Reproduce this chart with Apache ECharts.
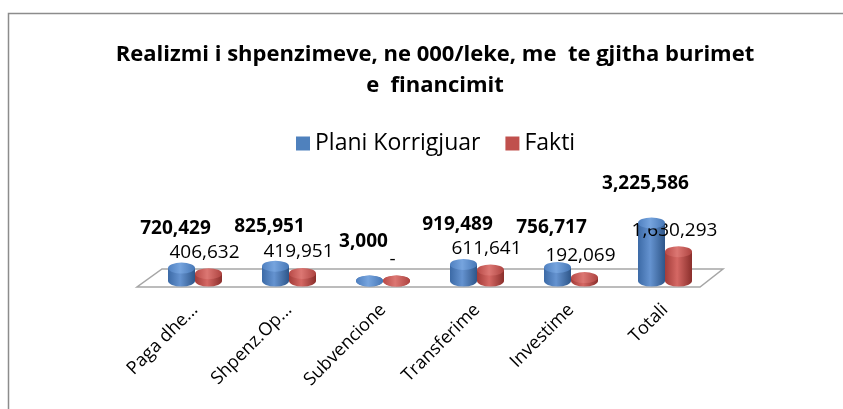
<!DOCTYPE html>
<html>
<head>
<meta charset="utf-8">
<script src="https://cdn.jsdelivr.net/npm/echarts@6/dist/echarts.min.js"></script>
<style>
  html, body { margin: 0; padding: 0; background: #fff; }
  #chart { width: 843px; height: 409px; }
</style>
</head>
<body>
<div id="chart"></div>
<script>
// te dhenat
var categories = ['Paga dhe...', 'Shpenz.Op...', 'Subvencione', 'Transferime', 'Investime', 'Totali'];
var planiKorrigjuar = [720429, 825951, 3000, 919489, 756717, 3225586];
var fakti = [406632, 419951, 0, 611641, 192069, 1630293];

var FONT = 'Open Sans';
var BAR_W = 27;

function fmt(v) {
  if (!v) return '-';
  return v.toLocaleString('en-US');
}

function cyl(c1, c2, c3) {
  return new echarts.graphic.LinearGradient(0, 0, 1, 0, [
    { offset: 0, color: c1 },
    { offset: 0.45, color: c2 },
    { offset: 1, color: c3 }
  ]);
}

var myChart = echarts.init(document.getElementById('chart'));
var option = {
  backgroundColor: '#fff',
  animation: false,
  title: {
    text: 'Realizmi i shpenzimeve, ne 000/leke, me  te gjitha burimet\ne  financimit',
    left: 430,
    textAlign: 'center',
    top: 34,
    textStyle: {
      fontFamily: FONT,
      fontSize: 22,
      fontWeight: 'bold',
      color: '#000',
      lineHeight: 31
    }
  },
  legend: {
    top: 127,
    left: 291,
    itemGap: 25,
    itemWidth: 14,
    itemHeight: 14,
    icon: 'rect',
    data: [
      { name: 'Plani Korrigjuar', itemStyle: { color: '#4f81bd' } },
      { name: 'Fakti', itemStyle: { color: '#c0504d' } }
    ],
    textStyle: { fontFamily: FONT, fontSize: 23, color: '#000' }
  },
  grid: { left: 148, right: 131, top: 200, bottom: 128 },
  xAxis: {
    type: 'category',
    data: categories,
    axisLine: { show: false },
    axisTick: { show: false },
    axisLabel: {
      rotate: 45,
      margin: 26,
      interval: 0,
      fontFamily: FONT,
      fontSize: 18,
      color: '#000'
    }
  },
  yAxis: {
    type: 'value',
    min: 0,
    max: 4500000,
    show: false,
    splitLine: { show: false }
  },
  series: [
    {
      name: 'Plani Korrigjuar',
      type: 'bar',
      data: planiKorrigjuar,
      barWidth: BAR_W,
      barGap: '0%',
      z: 3,
      itemStyle: { color: cyl('#3c6aa6', '#6593d0', '#2e5689') },
      label: {
        show: true,
        position: 'top',
        distance: 30,
        offset: [-6, 0],
        formatter: function (p) { return fmt(p.value); },
        fontFamily: FONT,
        fontSize: 19,
        fontWeight: 'bold',
        color: '#000'
      }
    },
    {
      name: 'Fakti',
      type: 'bar',
      data: fakti,
      barWidth: BAR_W,
      barGap: '0%',
      z: 3,
      itemStyle: { color: cyl('#a23c39', '#d56864', '#8a2e2b') },
      label: {
        show: true,
        position: 'top',
        distance: 12,
        offset: [-4, 0],
        formatter: function (p) { return fmt(p.value); },
        fontFamily: FONT,
        fontSize: 19,
        color: '#000'
      }
    },
    // kapaket e cilindrave
    {
      name: 'Plani Korrigjuar',
      type: 'pictorialBar',
      data: planiKorrigjuar,
      symbol: 'circle',
      symbolSize: [BAR_W, 11],
      symbolPosition: 'end',
      symbolOffset: ['-50%', '-50%'],
      z: 4,
      itemStyle: { color: cyl('#4f80c0', '#76a4de', '#4677b6') }
    },
    {
      name: 'Fakti',
      type: 'pictorialBar',
      data: fakti,
      symbol: 'circle',
      symbolSize: [BAR_W, 11],
      symbolPosition: 'end',
      symbolOffset: ['50%', '-50%'],
      z: 4,
      itemStyle: { color: cyl('#b84a47', '#dc7773', '#ad4340') }
    },
    {
      name: 'Plani Korrigjuar',
      type: 'pictorialBar',
      data: planiKorrigjuar,
      symbol: 'circle',
      symbolSize: [BAR_W, 11],
      symbolPosition: 'start',
      symbolOffset: ['-50%', '50%'],
      z: 2,
      itemStyle: { color: cyl('#3c6aa6', '#6593d0', '#2e5689') }
    },
    {
      name: 'Fakti',
      type: 'pictorialBar',
      data: fakti,
      symbol: 'circle',
      symbolSize: [BAR_W, 11],
      symbolPosition: 'start',
      symbolOffset: ['50%', '50%'],
      z: 2,
      itemStyle: { color: cyl('#a23c39', '#d56864', '#8a2e2b') }
    }
  ]
};

if (option && typeof option === 'object') {
  myChart.setOption(option, true);
}

// dyshemeja 3D dhe korniza
var c0 = myChart.convertToPixel({ xAxisIndex: 0 }, categories[0]);
var c1 = myChart.convertToPixel({ xAxisIndex: 0 }, categories[categories.length - 1]);
var band = (c1 - c0) / (categories.length - 1);
var base = myChart.convertToPixel({ yAxisIndex: 0 }, 0);
var L = c0 - band / 2, R = c1 + band / 2;
myChart.setOption({
  graphic: [
    {
      type: 'rect',
      shape: { x: 8.5, y: 13.5, width: 900, height: 500 },
      style: { fill: 'none', stroke: '#8c8c8c', lineWidth: 1.5 },
      silent: true
    },
    {
      type: 'polygon',
      z: -1,
      shape: {
        points: [
          [L + 14, base - 12], [R + 11, base - 12],
          [R - 12, base + 6], [L - 11, base + 6]
        ]
      },
      style: { fill: '#fff', stroke: '#a6a6a6', lineWidth: 1.5 },
      silent: true
    }
  ]
});
</script>
</body>
</html>
